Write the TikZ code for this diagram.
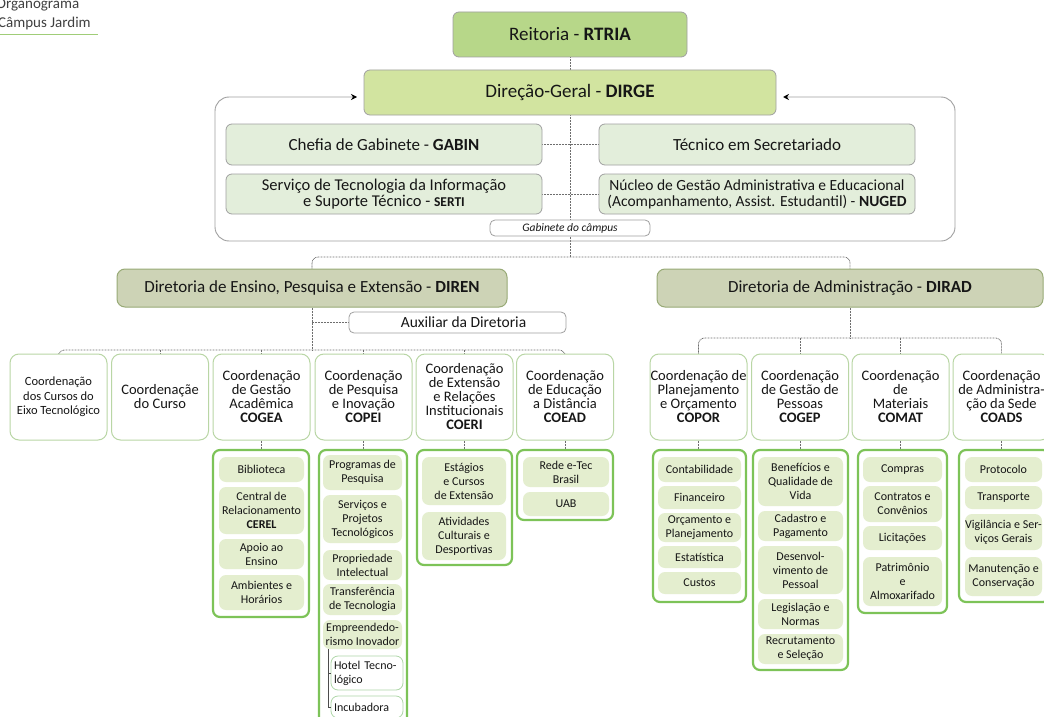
\documentclass[tikz,border=0pt]{standalone}
\usepackage{fontspec}
\setmainfont{Carlito}
\usetikzlibrary{positioning, arrows.meta, backgrounds}
\definecolor{reitgreen}{RGB}{183, 215, 137}
\definecolor{dirgegreen}{RGB}{210, 228, 160}
\definecolor{gabfill}{RGB}{227, 238, 219}
\definecolor{dirolive}{RGB}{205, 211, 182}
\definecolor{oliveline}{RGB}{152, 170, 118}
\definecolor{coordline}{RGB}{185, 214, 165}
\definecolor{listgreen}{RGB}{125, 195, 88}
\definecolor{itemfill}{RGB}{228, 238, 207}
\definecolor{subline}{RGB}{175, 215, 168}
\definecolor{boxgray}{RGB}{160, 160, 160}
\definecolor{conngray}{RGB}{110, 110, 110}
\definecolor{txtdark}{RGB}{22, 22, 22}
\definecolor{titleline}{RGB}{160, 205, 120}

\newcommand{\fsTitle}{\fontsize{15}{18}\selectfont}
\newcommand{\fsTop}{\fontsize{19}{20}\selectfont}
\newcommand{\fsGab}{\fontsize{17}{16.5}\selectfont}
\newcommand{\fsServ}{\fontsize{16.5}{16}\selectfont}
\newcommand{\fsNuged}{\fontsize{15.5}{16}\selectfont}
\newcommand{\fsSerti}{\fontsize{13.5}{14}\selectfont\bfseries}
\newcommand{\fsTag}{\fontsize{11.5}{12}\selectfont\itshape}
\newcommand{\fsAux}{\fontsize{15.5}{16}\selectfont}
\newcommand{\fsCoord}{\fontsize{14.5}{14}\selectfont}
\newcommand{\fsEixo}{\fontsize{12.5}{14.5}\selectfont}
\newcommand{\fsItem}{\fontsize{12}{14}\selectfont}

\begin{document}
\begin{tikzpicture}[x=1pt, y=-1pt,
  every node/.style={inner sep=0pt, align=center, text=txtdark},
  wh/.style 2 args={minimum width=#1, minimum height=#2},
  titletext/.style={anchor=base west, align=left, font=\fsTitle, text=black!75},
  topbox/.style={rectangle, rounded corners=6pt, draw=boxgray, fill=#1,
    line width=0.8pt, font=\fsTop},
  gabbox/.style={rectangle, rounded corners=6pt, draw=boxgray, fill=gabfill,
    line width=0.8pt, wh={316}{41}, font=\fsGab},
  tagbox/.style={rectangle, rounded corners=5pt, draw=boxgray, fill=white,
    line width=0.8pt},
  dirbox/.style={rectangle, rounded corners=8pt, draw=oliveline, fill=dirolive,
    line width=1pt, minimum height=38, font=\fsGab},
  coordbox/.style={rectangle, rounded corners=9pt, draw=coordline, fill=white,
    line width=1pt, wh={97}{86}, font=\fsCoord},
  listbox/.style={rectangle, rounded corners=7pt, draw=listgreen, fill=white,
    line width=2.2pt},
  itembox/.style={rectangle, rounded corners=7pt, fill=itemfill, font=\fsItem},
  subbox/.style={rectangle, rounded corners=7pt, draw=subline, fill=white,
    line width=0.8pt, text width=66, align=left, font=\fsItem},
  conn/.style={draw=conngray, line width=0.8pt, dash pattern=on 0.8pt off 0.7pt},
  gabframe/.style={draw=boxgray, line width=0.9pt, rounded corners=14pt},
  brk/.style={draw=black!70, line width=0.8pt}
]
\useasboundingbox (0,0) rectangle (1044,717);
\begin{scope}[on background layer]
  \fill[white] (0,0) rectangle (1044,717);
\end{scope}

% Title
\node[titletext] (ttl1) at (-4,9) {Organograma};
\node[titletext] (ttl2) at (-2,28) {Câmpus Jardim};
\draw[titleline, line width=1pt] (0,35) -- (98,35);

% Reitoria and Direcao-Geral
\node[topbox=reitgreen, wh={234}{45}] (rtria) at (570,34.5) {Reitoria - \textbf{RTRIA}};
\node[topbox=dirgegreen, wh={412}{45}] (dirge) at (570,92.5) {Direção-Geral - \textbf{DIRGE}};

% Gabinete do campus
\node[gabbox] (gabin) at (384,144.5) {Chefia de Gabinete - \textbf{GABIN}};
\node[gabbox] (tecsec) at (757,144.5) {Técnico em Secretariado};
\node[gabbox, minimum height=40, font=\fsServ] (serti) at (384,194)
  {Serviço de Tecnologia da Informação\\e Suporte Técnico - {\fsSerti SERTI}};
\node[gabbox, minimum height=40, font=\fsNuged] (nuged) at (757,194)
  {Núcleo de Gestão Administrativa e Educacional\\(Acompanhamento, Assist. Estudantil) - \textbf{NUGED}};
\node[tagbox, wh={160}{16}, font=\fsTag] (gabtag) at (570,228) {Gabinete do câmpus};
\coordinate (gfl) at (357,97);
\coordinate (gfr) at (783,97);

% Diretorias
\node[dirbox, minimum width=390] (diren) at (312,288)
  {Diretoria de Ensino, Pesquisa e Extensão - \textbf{DIREN}};
\node[dirbox, minimum width=386] (dirad) at (850,288)
  {Diretoria de Administração - \textbf{DIRAD}};
\node[tagbox, wh={217}{21}, font=\fsAux] (aux) at (457.5,322.5) {\hspace*{12pt}Auxiliar da Diretoria};
\coordinate (dbus) at (570,257);
\coordinate (enbus) at (312,350);
\coordinate (adbus) at (850,338);

% Coordenacoes DIREN
\node[coordbox, font=\fsEixo] (eixo) at (58.5,397) {Coordenação\\dos Cursos do\\Eixo Tecnológico};
\node[coordbox] (curso) at (160,397) {Coordenaçãe\\do Curso};
\node[coordbox] (cogea) at (261.5,397) {Coordenação\\de Gestão\\Acadêmica\\\textbf{COGEA}};
\node[coordbox] (copei) at (363.5,397) {Coordenação\\de Pesquisa\\e Inovação\\\textbf{COPEI}};
\node[coordbox] (coeri) at (464.5,397) {Coordenação\\de Extensão\\e Relações\\Institucionais\\\textbf{COERI}};
\node[coordbox] (coead) at (565,397) {Coordenação\\de Educação\\a Distância\\\textbf{COEAD}};

% Coordenacoes DIRAD
\node[coordbox] (copor) at (698.5,397) {Coordenação de\\Planejamento\\e Orçamento\\\textbf{COPOR}};
\node[coordbox] (cogep) at (800,397) {Coordenação\\de Gestão de\\Pessoas\\\textbf{COGEP}};
\node[coordbox] (comat) at (900.5,397) {Coordenação\\de\\Materiais\\\textbf{COMAT}};
\node[coordbox] (coads) at (1001.5,397) {Coordenação\\de Administra-\\ção da Sede\\\textbf{COADS}};

% COGEA
\node[listbox, wh={96}{167}] (lcogea) at (261,533.5) {};
\foreach \cy/\h/\t [count=\i] in {469.5/25/Biblioteca,
    510.5/47/{Central de\\Relacionamento\\\textbf{CEREL}},
    554/30/{Apoio ao\\Ensino}, 592.5/35/{Ambientes e\\Horários}}
  \node[itembox, wh={85}{\h}] (cogea\i) at (261.5,\cy) {\t};

% COPEI
\node[listbox, wh={88}{280}] (lcopei) at (363,590) {};
\foreach \cy/\h/\t [count=\i] in {472.5/35/{Programas de\\Pesquisa},
    519/48/{Serviços e\\Projetos\\Tecnológicos}, 565/30/{Propriedade\\Intelectual},
    599.5/31/{Transferência\\de Tecnologia}, 634.5/29/{Empreendedo-\\rismo Inovador}}
  \node[itembox, wh={79}{\h}] (copei\i) at (362.5,\cy) {\t};
\node[subbox, wh={72}{34}] (hotel) at (367,673) {Hotel Tecno-\\lógico};
\node[subbox, wh={72}{22}] (incub) at (367,707) {Incubadora};
\coordinate (brk) at (328,649);
\draw[brk] (brk) |- (hotel.west);
\draw[brk] (brk) |- (incub.west);

% COERI
\node[listbox, wh={95}{115}] (lcoeri) at (464.5,507.5) {};
\foreach \cy/\h/\t [count=\i] in {481/48/{Estágios\\e Cursos\\de Extensão},
    536/48/{Atividades\\Culturais e\\Desportivas}}
  \node[itembox, wh={84}{\h}] (coeri\i) at (464,\cy) {\t};

% COEAD
\node[listbox, wh={96}{70}] (lcoead) at (565,485) {};
\foreach \cy/\h/\t [count=\i] in {472/30/{Rede e-Tec\\Brasil}, 504/24/UAB}
  \node[itembox, wh={86}{\h}] (coead\i) at (566,\cy) {\t};

% COPOR
\node[listbox, wh={93}{152}] (lcopor) at (699.5,526) {};
\foreach \cy/\h/\t [count=\i] in {469.5/25/Contabilidade, 497.5/23/Financeiro,
    527.5/29/{Orçamento e\\Planejamento}, 557/22/Estatística, 583/22/Custos}
  \node[itembox, wh={83}{\h}] (copor\i) at (699.5,\cy) {\t};

% COGEP
\node[listbox, wh={95}{220}] (lcogep) at (800.5,560) {};
\foreach \cy/\h/\t [count=\i] in {481.5/49/{Benefícios e\\Qualidade de\\Vida},
    526/30/{Cadastro e\\Pagamento}, 570/48/{Desenvol-\\vimento de\\Pessoal},
    614/30/{Legislação e\\Normas}, 649/30/{Recrutamento\\e Seleção}}
  \node[itembox, wh={85}{\h}] (cogep\i) at (800.5,\cy) {\t};

% COMAT
\node[listbox, wh={89}{163}] (lcomat) at (902.5,531.5) {};
\foreach \cy/\h/\t [count=\i] in {469.5/25/Compras, 504/36/{Contratos e\\Convênios},
    538/24/Licitações, 581.5/49/{Patrimônio\\e\\Almoxarifado}}
  \node[itembox, wh={79}{\h}] (comat\i) at (902.5,\cy) {\t};

% COADS
\node[listbox, wh={91}{152}] (lcoads) at (1004.5,526) {};
\foreach \cy/\h/\t [count=\i] in {469.5/25/Protocolo, 497.5/23/Transporte,
    532/36/{Vigilância e Ser-\\viços Gerais}, 576.5/39/{Manutenção e\\Conservação}}
  \node[itembox, wh={77}{\h}] (coads\i) at (1003.5,\cy) {\t};

% connectors
\begin{scope}[on background layer]
  \draw[conn] (rtria.south) -- (rtria.south |- dirge.north);
  \draw[conn] (dirge.south) -- (dbus);
  \draw[conn] (gabin) -- (tecsec);
  \draw[conn] (serti) -- (nuged);
  \draw[gabframe, {Stealth[length=6pt, width=6pt, color=black]}-{Stealth[length=6pt, width=6pt, color=black]}]
    (gfl) -- (215,97) -- (215,241) -- (955,241) -- (955,97) -- (gfr);
  \draw[conn, rounded corners=6pt] (diren.north) |- (dbus) -| (dirad.north);
  \draw[conn] (diren.south) -- (enbus);
  \draw[conn] (aux.west) -- (aux.west -| diren.south);
  \draw[conn, rounded corners=6pt] (eixo.north) |- (enbus) -| (coead.north);
  \foreach \n in {curso,cogea,copei,coeri}
    \draw[conn] (\n.north) -- (\n.north |- enbus);
  \draw[conn] (dirad.south) -- (adbus);
  \draw[conn, rounded corners=6pt] (copor.north) |- (adbus) -| (coads.north);
  \foreach \n in {cogep,comat}
    \draw[conn] (\n.north) -- (\n.north |- adbus);
  \foreach \n in {cogea,copei,coeri,coead,copor,cogep,comat,coads}
    \draw[conn] (\n.south) -- (\n.south |- l\n.north);
\end{scope}
\end{tikzpicture}
\end{document}
